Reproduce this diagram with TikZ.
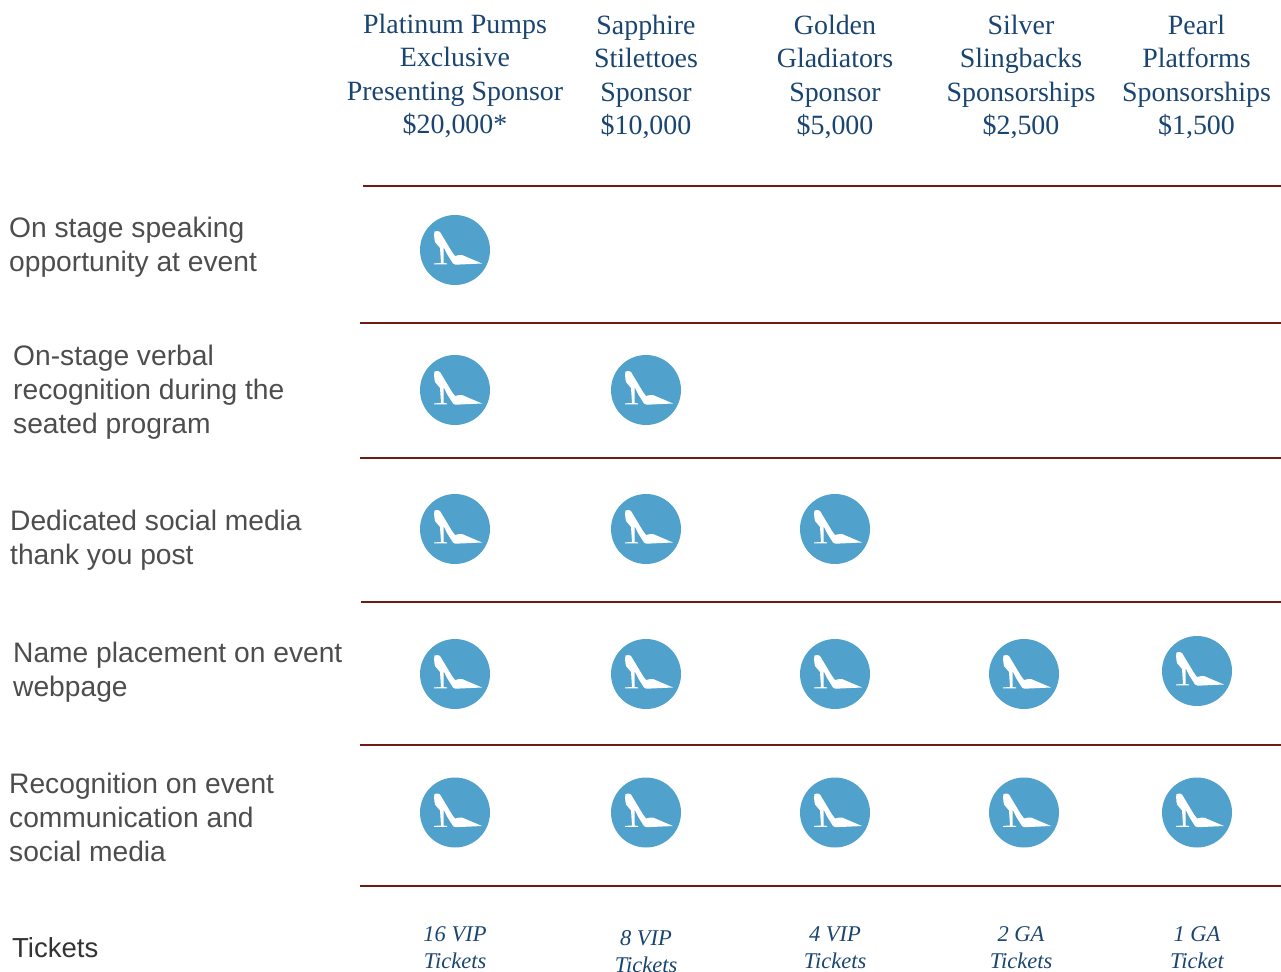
\documentclass[tikz,border=0pt]{standalone}
\usepackage{fontspec}
\setmainfont{Liberation Serif}
\setsansfont{Liberation Sans}
\definecolor{headblue}{HTML}{1A4570}
\definecolor{rowgray}{HTML}{4D4D4D}
\definecolor{dotblue}{HTML}{50A1CC}
\definecolor{rulered}{HTML}{6E1C14}
\tikzset{
  x=1pt,y=-1pt,
  head/.style={inner sep=0pt,anchor=north,align=center,text=headblue,font=\fontsize{27.9}{33.5}\selectfont},
  rowlabel/.style={inner sep=0pt,anchor=north west,align=left,text=rowgray,font=\sffamily\fontsize{28.2}{33.8}\selectfont},
  ticket/.style={inner sep=0pt,anchor=north,align=center,text=headblue,font=\itshape\fontsize{22.5}{27}\selectfont},
  rowrule/.style={draw=rulered,line width=2pt},
  dot/.pic={
    \fill[dotblue] (0,0) circle[radius=35];
    \fill[white] (-20.5,-18.5) .. controls (-18,-19.5) and (-16,-19) .. (-15,-18)
      -- (-9,-8) -- (-3,2) -- (0,6) .. controls (3,5) and (5,5) .. (7,5)
      -- (27,13.5) -- (5,14.5) -- (0,14.5) -- (-2,13.5)
      -- (-8,4) -- (-11.5,-3) -- (-11.5,13) -- (-8,13.4) -- (-8,14.4) -- (-21,14.4) -- (-21,13.4) -- (-14,13)
      -- (-15,-2) -- (-20,-8) .. controls (-21,-12) and (-21,-16) .. (-20.5,-18.5) -- cycle;
  }
}
\begin{document}
\begin{tikzpicture}
\useasboundingbox (0,0) rectangle (1281,971);
% column headings
\node[head] (h1) at (455,9.6) {\strut Platinum Pumps\\Exclusive\\Presenting Sponsor\\\$20,000*};
\node[head] (h2) at (646,10.6) {\strut Sapphire\\Stilettoes\\Sponsor\\\$10,000};
\node[head] (h3) at (835,10.6) {\strut Golden\\Gladiators\\Sponsor\\\$5,000};
\node[head] (h4) at (1021,10.6) {\strut Silver\\Slingbacks\\Sponsorships\\\$2,500};
\node[head] (h5) at (1196.5,10.6) {\strut Pearl\\Platforms\\Sponsorships\\\$1,500};
% rules
\coordinate (re) at (1281,0);
\coordinate (r1) at (363,186); \draw[rowrule] (r1) -- (r1 -| re);
\coordinate (r2) at (360,323); \draw[rowrule] (r2) -- (r2 -| re);
\coordinate (r3) at (360,458); \draw[rowrule] (r3) -- (r3 -| re);
\coordinate (r4) at (361,602); \draw[rowrule] (r4) -- (r4 -| re);
\coordinate (r5) at (360,745); \draw[rowrule] (r5) -- (r5 -| re);
\coordinate (r6) at (360,886); \draw[rowrule] (r6) -- (r6 -| re);
% row labels
\node[rowlabel] (l1) at (9,214) {\strut On stage speaking\\opportunity at event};
\node[rowlabel] (l2) at (13,342) {\strut On-stage verbal\\recognition during the\\seated program};
\node[rowlabel] (l3) at (10,507) {\strut Dedicated social media\\thank you post};
\node[rowlabel] (l4) at (13,639) {\strut Name placement on event\\webpage};
\node[rowlabel] (l5) at (9,770) {\strut Recognition on event\\communication and\\social media};
\node[rowlabel,text=black!80,font=\sffamily\fontsize{27.5}{33.7}\selectfont] (l6) at (12,933.4) {\strut Tickets};
% marks
\foreach \x/\y in {455/250,455/390,646/390,455/529,646/529,835/529,455/674,646/674,835/674,1024/674,1197/671,455/812.5,646/812.5,835/812.5,1024/812.5,1197/812.5}
  \pic at (\x,\y) {dot};
% tickets
\node[ticket] (t1) at (455,922) {\strut 16 VIP\\Tickets};
\node[ticket] (t2) at (646,926) {\strut 8 VIP\\Tickets};
\node[ticket] (t3) at (835,922) {\strut 4 VIP\\Tickets};
\node[ticket] (t4) at (1021,922) {\strut 2 GA\\Tickets};
\node[ticket] (t5) at (1197,922) {\strut 1 GA\\Ticket};
\end{tikzpicture}
\end{document}
